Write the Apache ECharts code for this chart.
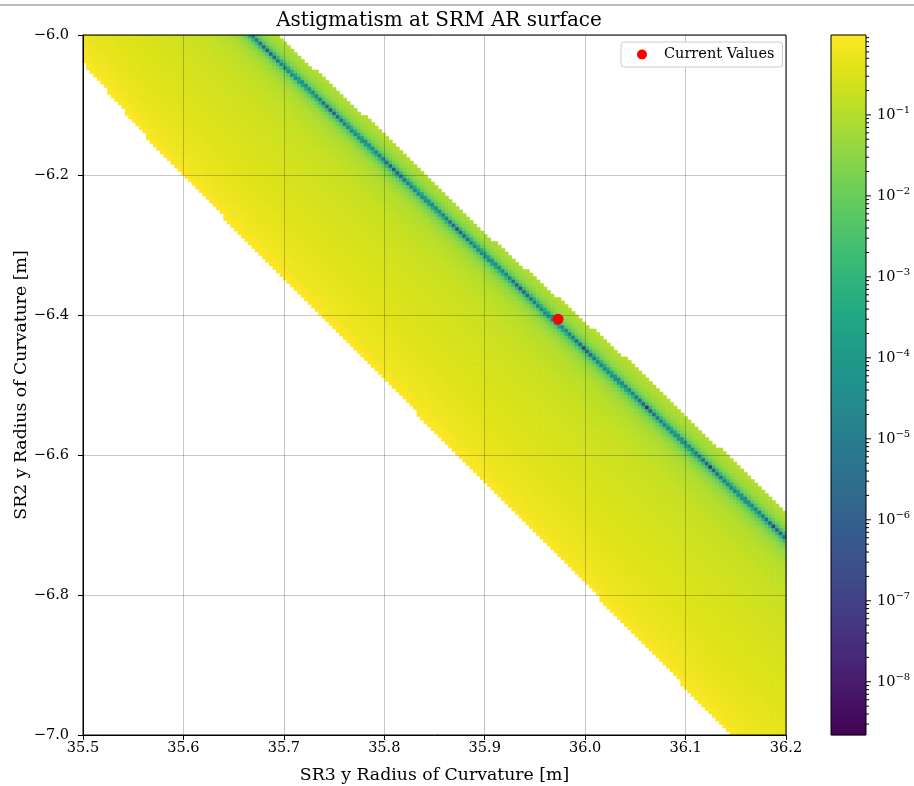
<!DOCTYPE html>
<html><head><meta charset="utf-8">
<script src="https://cdn.jsdelivr.net/npm/echarts@6/dist/echarts.min.js"></script>
<style>html,body{margin:0;padding:0;background:#fff}#c{width:914px;height:786px}</style>
</head><body><div id="c"></div>
<script>
// ---- axis ranges ----
const xRange = [35.5, 36.2];
const yRange = [-7.0, -6.0];
const gridCells = [200, 200];              // cells along x, along y
// ---- zero-astigmatism line ----
const zeroLineX = [35.667, 36.200];
const zeroLineY = [-6.000, -6.719];
// ---- upper-right boundary of the computed region ----
const upperEdgeX = [35.693, 35.796, 35.897, 36.057, 36.200];
const upperEdgeY = [-6.000, -6.136, -6.279, -6.483, -6.683];
// ---- lower-left boundary of the computed region ----
const lowerEdgeX = [35.500, 35.574, 35.816, 36.055, 36.144];
const lowerEdgeY = [-6.039, -6.164, -6.516, -6.864, -7.000];
// ---- |astigmatism| read from colours, left of the zero line,
//      against fraction of the way from the zero line to the lower-left boundary ----
const leftProfileT = [0, 0.0025, 0.0085, 0.017, 0.035, 0.07, 0.13, 0.30, 0.50, 0.70, 0.85, 0.95, 1.00];
const leftProfileV = [2.2e-9, 2e-6, 4e-5, 1.5e-3, 0.012, 0.045, 0.10, 0.19, 0.27, 0.36, 0.50, 0.70, 0.97];
// ---- |astigmatism| right of the zero line, against horizontal offset [m] ----
const rightProfileOffset = [0, 0.0005, 0.00175, 0.0035, 0.007, 0.014, 0.030];
const rightProfileV      = [2.2e-9, 2e-6, 4e-5, 1.5e-3, 0.012, 0.045, 0.11];
// ---- colour bar ----
const colorRange = [2.2e-9, 0.97];
const colorMajorTicks = [1e-8, 1e-7, 1e-6, 1e-5, 1e-4, 1e-3, 1e-2, 1e-1];
// ---- current values marker ----
const currentX = [35.973];
const currentY = [-6.406];

const FONT = 'DejaVu Serif';
const viridis = ['#440154','#471365','#482475','#463480','#414487','#3b528b','#355f8d','#2f6c8e','#2a788e','#25848e','#21918c','#1e9c89','#22a884','#2fb47c','#44bf70','#5ec962','#7ad151','#9bd93c','#bddf26','#dfe318','#fde725'];

function interp(xs, ys, x) {
  const n = xs.length;
  let k = 0;
  const asc = xs[n-1] > xs[0];
  for (k = 0; k < n - 2; k++) {
    if (asc ? x < xs[k+1] : x > xs[k+1]) break;
  }
  const t = (x - xs[k]) / (xs[k+1] - xs[k]);
  return ys[k] + t * (ys[k+1] - ys[k]);
}

const dx = (xRange[1] - xRange[0]) / gridCells[0];
const dy = (yRange[1] - yRange[0]) / gridCells[1];
const lmin = Math.log10(colorRange[0]), lmax = Math.log10(colorRange[1]);
const cells = [];
for (let i = 0; i < gridCells[0]; i++) {
  const cx = xRange[0] + (i + 0.5) * dx;
  const yUp = interp(upperEdgeX, upperEdgeY, cx);
  const yLo = interp(lowerEdgeX, lowerEdgeY, cx);
  for (let j = 0; j < gridCells[1]; j++) {
    const cy = yRange[1] - (j + 0.5) * dy;
    if (cy > yUp || cy < yLo) continue;
    const xz = interp(zeroLineY, zeroLineX, cy);
    let v;
    if (cx < xz) {
      const xl = interp(lowerEdgeY, lowerEdgeX, cy);
      const t = Math.min(1, (xz - cx) / (xz - xl));
      v = interp(leftProfileT, leftProfileV, t);
    } else {
      v = interp(rightProfileOffset, rightProfileV, cx - xz);
    }
    const lv = Math.max(lmin, Math.min(lmax, Math.log10(Math.max(v, 1e-12))));
    cells.push([cx, cy, lv]);
  }
}

// colour-bar stripes
const NB = 300;
const bar = [];
for (let k = 0; k < NB; k++) {
  const l0 = lmin + (lmax - lmin) * k / NB, l1 = lmin + (lmax - lmin) * (k + 1) / NB;
  bar.push([0, Math.pow(10, l0), (l0 + l1) / 2, Math.pow(10, l1)]);
}
// colour-bar ticks: [x, value, -, length]
const cbTicks = [];
colorMajorTicks.forEach(v => cbTicks.push([1, v, 0, 5]));
for (let e = -9; e <= -1; e++) for (let m = 2; m <= 9; m++) {
  const v = m * Math.pow(10, e);
  if (v >= colorRange[0] && v <= colorRange[1]) cbTicks.push([1, v, 0, 3]);
}

const chart = echarts.init(document.getElementById('c'), null, {renderer: 'canvas'});
const axisLabelStyle = {fontFamily: FONT, fontSize: 14.5, color: '#000'};
chart.setOption({
  animation: false,
  backgroundColor: '#fff',
  title: {
    text: 'Astigmatism at SRM AR surface', left: 434, top: 6, textAlign: 'center',
    textStyle: {fontFamily: FONT, fontSize: 20, fontWeight: 'normal', color: '#000'}
  },
  legend: {
    left: 621, top: 42, orient: 'vertical',
    data: [{name: 'Current Values', icon: 'circle', itemStyle: {color: '#ff0000', opacity: 1}}],
    itemWidth: 34, itemHeight: 10, padding: [5, 8, 5, 16],
    backgroundColor: '#fff', borderColor: '#cccccc', borderWidth: 1, borderRadius: 3,
    textStyle: {fontFamily: FONT, fontSize: 14.5, color: '#000'}, z: 20
  },
  graphic: [{type: 'line', shape: {x1: 0, y1: 5, x2: 914, y2: 5}, style: {stroke: '#777', lineWidth: 1}}],
  grid: [
    {left: 83, top: 35, width: 703, height: 700, containLabel: false, outerBoundsMode: 'none',
     show: true, backgroundColor: 'transparent', borderColor: '#000', borderWidth: 1, z: 10},
    {left: 831, top: 35, width: 35, height: 700, containLabel: false, outerBoundsMode: 'none',
     show: true, backgroundColor: 'transparent', borderColor: '#000', borderWidth: 1, z: 10}
  ],
  xAxis: [
    {type: 'value', gridIndex: 0, min: xRange[0], max: xRange[1], interval: 0.1, z: 5,
     name: 'SR3 y Radius of Curvature [m]', nameLocation: 'middle', nameGap: 32, nameMoveOverlap: false,
     nameTextStyle: {fontFamily: FONT, fontSize: 17.3, color: '#000'},
     axisLine: {show: true, onZero: false, lineStyle: {color: '#000'}},
     axisTick: {show: true, length: 5, lineStyle: {color: '#000'}},
     axisLabel: Object.assign({margin: 6, formatter: v => v.toFixed(1)}, axisLabelStyle),
     splitLine: {show: true, lineStyle: {color: 'rgba(0,0,0,0.22)', width: 1}}},
    {type: 'value', gridIndex: 1, min: 0, max: 1, show: false}
  ],
  yAxis: [
    {type: 'value', gridIndex: 0, min: yRange[0], max: yRange[1], interval: 0.2, z: 5,
     name: 'SR2 y Radius of Curvature [m]', nameLocation: 'middle', nameGap: 53, nameRotate: 90, nameMoveOverlap: false,
     nameTextStyle: {fontFamily: FONT, fontSize: 17.3, color: '#000'},
     axisLine: {show: true, onZero: false, lineStyle: {color: '#000'}},
     axisTick: {show: true, length: 5, lineStyle: {color: '#000'}},
     axisLabel: Object.assign({margin: 14, formatter: v => (v < 0 ? '\u2212' : '') + Math.abs(v).toFixed(1)}, axisLabelStyle),
     splitLine: {show: true, lineStyle: {color: 'rgba(0,0,0,0.22)', width: 1}}},
    {type: 'log', gridIndex: 1, min: colorRange[0], max: colorRange[1], logBase: 10, position: 'right', splitNumber: 10,
     axisLine: {show: false}, axisTick: {show: false}, splitLine: {show: false},
     axisLabel: {show: true, margin: 11, showMinLabel: false, showMaxLabel: false,
       formatter: v => { const e = Math.round(Math.log10(v)); return '{b|10}{s|' + (e < 0 ? '\u2212' : '') + Math.abs(e) + '}'; },
       rich: {b: {fontFamily: FONT, fontSize: 14.5, color: '#000'}, s: {fontFamily: FONT, fontSize: 10, color: '#000', padding: [0, 0, 9, 0]}}}}
  ],
  visualMap: {
    type: 'continuous', show: false, min: lmin, max: lmax, dimension: 2, seriesIndex: [0, 1],
    inRange: {color: viridis}
  },
  series: [
    {
      type: 'custom', name: 'astig', xAxisIndex: 0, yAxisIndex: 0, z: 1,
      dimensions: ['x', 'y', 'logv'], encode: {x: 0, y: 1},
      data: cells,
      renderItem: (params, api) => {
        const x = api.value(0), y = api.value(1);
        const p1 = api.coord([x - dx / 2, y + dy / 2]);
        const p2 = api.coord([x + dx / 2, y - dy / 2]);
        return {type: 'rect', shape: {x: p1[0] - 0.3, y: p1[1] - 0.3, width: p2[0] - p1[0] + 0.6, height: p2[1] - p1[1] + 0.6},
          style: {fill: api.visual('color')}};
      }
    },
    {
      type: 'custom', name: 'colorbar', xAxisIndex: 1, yAxisIndex: 1, z: 1,
      dimensions: ['x', 'v0', 'l', 'v1'], encode: {x: 0, y: 1},
      data: bar,
      renderItem: (params, api) => {
        const p0 = api.coord([0, api.value(1)]);
        const p1 = api.coord([1, api.value(3)]);
        return {type: 'rect', shape: {x: p0[0], y: p1[1] - 0.3, width: p1[0] - p0[0], height: p0[1] - p1[1] + 0.6},
          style: {fill: api.visual('color')}};
      }
    },
    {
      type: 'custom', name: 'cbticks', xAxisIndex: 1, yAxisIndex: 1, z: 11, silent: true,
      dimensions: ['x', 'v', 'n', 'len'], encode: {x: 0, y: 1},
      data: cbTicks,
      renderItem: (params, api) => {
        const p = api.coord([1, api.value(1)]);
        return {type: 'line', shape: {x1: p[0], y1: p[1], x2: p[0] + api.value(3), y2: p[1]}, style: {stroke: '#000', lineWidth: 1}};
      }
    },
    {
      type: 'scatter', name: 'Current Values', xAxisIndex: 0, yAxisIndex: 0, z: 12,
      symbol: 'circle', symbolSize: 11, itemStyle: {color: '#ff0000', opacity: 1},
      data: currentX.map((x, i) => [x, currentY[i]])
    }
  ]
});
</script></body></html>
